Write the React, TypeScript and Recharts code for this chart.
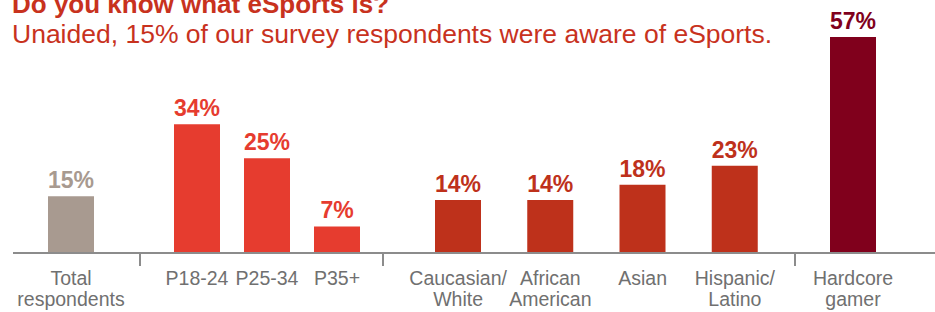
import React from "react";
import { BarChart, Bar, XAxis, YAxis, LabelList } from "recharts";

const totalCats = ["Total\nrespondents"];
const totalVals = [15];
const ageCats = ["P18-24", "P25-34", "P35+"];
const ageVals = [34, 25, 7];
const ethnicCats = ["Caucasian/\nWhite", "African\nAmerican", "Asian", "Hispanic/\nLatino"];
const ethnicVals = [14, 14, 18, 23];
const gamerCats = ["Hardcore\ngamer"];
const gamerVals = [57];

const FONT = "'Liberation Sans', Arial, Helvetica, sans-serif";
const AXIS = "#8c8c8c";
const H = 312;

const Tick = (props: any) => {
  const { x, y, payload } = props;
  const lines = String(payload.value).split("\n");
  return (
    <text x={x} y={y} textAnchor="middle" fill="#707070" fontSize={19.5} fontFamily={FONT}>
      {lines.map((l, i) => <tspan key={i} x={x} y={y + 32 + i * 21}>{l}</tspan>)}
    </text>
  );
};

interface GroupProps { cats: string[]; vals: number[]; color: string; left: number; width: number; padL: number; padR: number; sep?: boolean; }

function Group({ cats, vals, color, left, width, padL, padR, sep }: GroupProps) {
  const data = cats.map((c, i) => ({ name: c, value: vals[i] }));
  return (
    <div style={{ position: "absolute", left, top: 0, width, height: H }}>
      <BarChart width={width} height={H} data={data} margin={{ top: 37, right: 0, bottom: 0, left: 0 }}>
        <XAxis dataKey="name" height={59} interval={0} tickLine={false} tickSize={0} tickMargin={0}
          axisLine={{ stroke: AXIS, strokeWidth: 2 }} padding={{ left: padL, right: padR }} tick={<Tick />} />
        <YAxis hide domain={[0, 57]} />
        <Bar dataKey="value" fill={color} barSize={46} isAnimationActive={false}>
          <LabelList dataKey="value" position="top" offset={8} formatter={(v: any) => `${v}%`}
            fill={color} fontSize={23} fontWeight="bold" fontFamily={FONT} />
        </Bar>
      </BarChart>
      {sep && <div style={{ position: "absolute", left: -1, top: 253, width: 2, height: 13, background: AXIS }} />}
    </div>
  );
}

export default function App() {
  return (
    <div style={{ position: "absolute", left: 0, top: 0, width: 935, height: H, background: "#fff", overflow: "hidden", fontFamily: FONT }}>
      <Group cats={totalCats} vals={totalVals} color="#a89a90" left={13} width={127} padL={0} padR={11} />
      <Group cats={ageCats} vals={ageVals} color="#e63c2f" left={140} width={243} padL={22} padR={11} sep />
      <Group cats={ethnicCats} vals={ethnicVals} color="#be311b" left={383} width={412} padL={29} padR={14} sep />
      <Group cats={gamerCats} vals={gamerVals} color="#80001c" left={795} width={140} padL={0} padR={24} sep />
      <div style={{ position: "absolute", left: 12, top: -11, fontSize: 26, fontWeight: "bold", color: "#c8321e", whiteSpace: "nowrap", lineHeight: "30px" }}>
        Do you know what eSports is?
      </div>
      <div style={{ position: "absolute", left: 12, top: 19, fontSize: 26.5, color: "#c8321e", whiteSpace: "nowrap", lineHeight: "30px" }}>
        Unaided, 15% of our survey respondents were aware of eSports.
      </div>
    </div>
  );
}
